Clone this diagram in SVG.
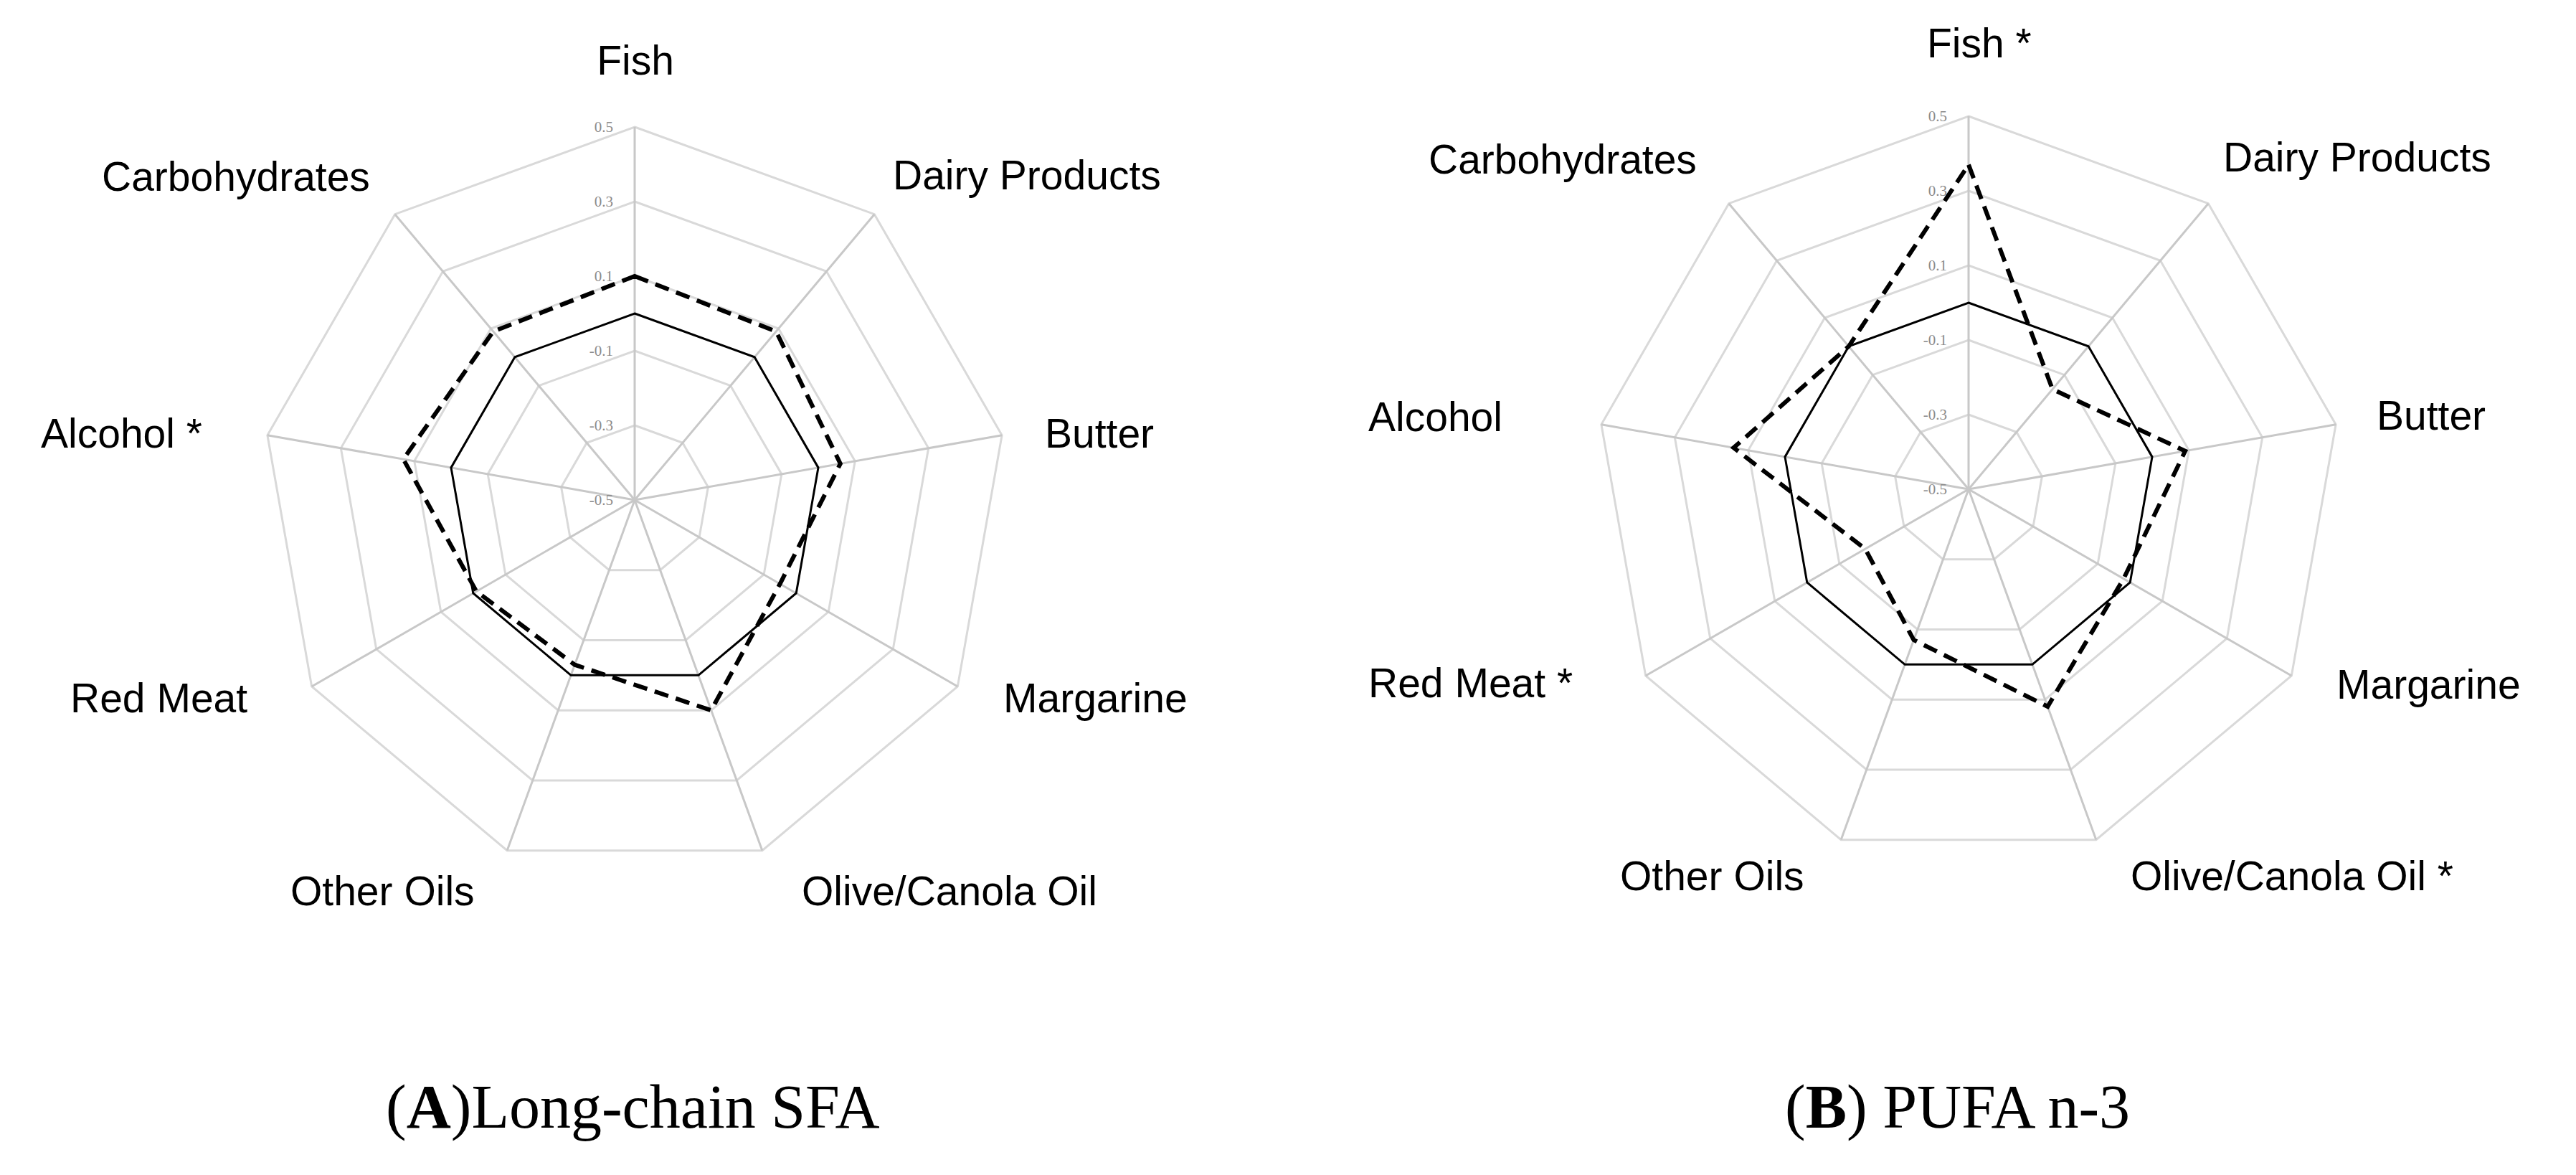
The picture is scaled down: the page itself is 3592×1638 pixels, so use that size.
<svg xmlns="http://www.w3.org/2000/svg" width="3592" height="1638" viewBox="0 0 3592 1638">
<style>
.ring{fill:none;stroke:#d9d9d9;stroke-width:3}
.spoke{stroke:#c8c8c8;stroke-width:3}
.solid{fill:none;stroke:#000;stroke-width:3;stroke-linejoin:miter}
.dash{fill:none;stroke:#000;stroke-width:6;stroke-dasharray:20 11}
.lab{font-family:"Liberation Sans",Arial,sans-serif;font-size:57px;fill:#000}
.tick{font-family:"Liberation Serif","Times New Roman",serif;font-size:21px;fill:#8c8c8c;text-anchor:end}
.cap{font-family:"Liberation Serif","Times New Roman",serif;font-size:86px;fill:#000}
</style>
<defs>
<polygon id="non" points="0,-1 0.6428,-0.7660 0.9848,-0.1736 0.8660,0.5 0.3420,0.9397 -0.3420,0.9397 -0.8660,0.5 -0.9848,-0.1736 -0.6428,-0.7660"/>
<g id="grid">
<g class="ring">
<use href="#non" transform="scale(104)" style="stroke-width:0.029"/>
<use href="#non" transform="scale(208)" style="stroke-width:0.0144"/>
<use href="#non" transform="scale(312)" style="stroke-width:0.0096"/>
<use href="#non" transform="scale(416)" style="stroke-width:0.0072"/>
<use href="#non" transform="scale(520)" style="stroke-width:0.0058"/>
</g>
<g class="spoke">
<line x1="0" y1="0" x2="0" y2="-520"/>
<line x1="0" y1="0" x2="334.3" y2="-398.3"/>
<line x1="0" y1="0" x2="512.1" y2="-90.3"/>
<line x1="0" y1="0" x2="450.3" y2="260"/>
<line x1="0" y1="0" x2="177.8" y2="488.6"/>
<line x1="0" y1="0" x2="-177.8" y2="488.6"/>
<line x1="0" y1="0" x2="-450.3" y2="260"/>
<line x1="0" y1="0" x2="-512.1" y2="-90.3"/>
<line x1="0" y1="0" x2="-334.3" y2="-398.3"/>
</g>
<g class="tick">
<text x="-30" y="-513">0.5</text>
<text x="-30" y="-409">0.3</text>
<text x="-30" y="-305">0.1</text>
<text x="-30" y="-201">-0.1</text>
<text x="-30" y="-97">-0.3</text>
<text x="-30" y="7">-0.5</text>
</g>
<polygon class="solid" points="0,-260 167.1,-199.2 256,-45.1 225.2,130 88.9,244.3 -88.9,244.3 -225.2,130 -256,-45.1 -167.1,-199.2"/>
</g>
</defs>
<g id="chartA">
<g transform="translate(885 697)">
<use href="#grid"/>
<polygon class="dash" points="0,-312 197.2,-235 286.8,-50.6 202.6,117 106.7,293.2 -83.6,229.7 -220.7,127.4 -322.6,-56.9 -197.2,-235"/>
</g>
<g class="lab">
<text x="886" y="104" text-anchor="middle">Fish</text>
<text x="1245" y="264">Dairy Products</text>
<text x="1457" y="624">Butter</text>
<text x="1399" y="993">Margarine</text>
<text x="1118" y="1262">Olive/Canola Oil</text>
<text x="405" y="1262">Other Oils</text>
<text x="98" y="993">Red Meat</text>
<text x="57" y="624">Alcohol *</text>
<text x="142" y="266">Carbohydrates</text>
</g>
<text class="cap" x="538" y="1572">(<tspan font-weight="bold">A</tspan>)Long-chain SFA</text>
</g>
<g id="chartB">
<g transform="translate(2745 682)">
<use href="#grid"/>
<polygon class="dash" points="0,-452.4 117,-139.4 302.1,-53.3 216.2,124.8 110.3,303 -76.5,210.1 -144.1,83.2 -327.7,-57.8 -167.1,-199.2"/>
</g>
<g class="lab">
<text x="2687" y="80">Fish *</text>
<text x="3100" y="239">Dairy Products</text>
<text x="3314" y="599">Butter</text>
<text x="3258" y="974">Margarine</text>
<text x="2971" y="1241">Olive/Canola Oil *</text>
<text x="2259" y="1241">Other Oils</text>
<text x="1908" y="972">Red Meat *</text>
<text x="1908" y="601">Alcohol</text>
<text x="1992" y="242">Carbohydrates</text>
</g>
<text class="cap" x="2489" y="1572">(<tspan font-weight="bold">B</tspan>) PUFA n-3</text>
</g>
</svg>
